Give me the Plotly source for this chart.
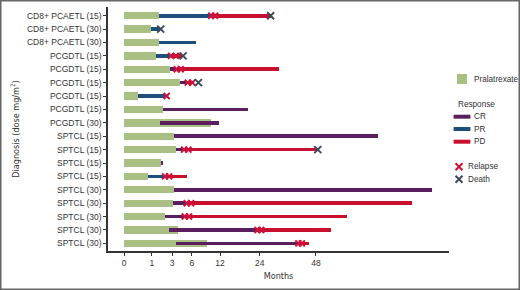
import numpy as np
import plotly.graph_objects as go

# ---------------- data ----------------
diagnosis = ["CD8+ PCAETL (15)", "CD8+ PCAETL (30)", "CD8+ PCAETL (30)",
             "PCGDTL (15)", "PCGDTL (15)", "PCGDTL (15)", "PCGDTL (15)", "PCGDTL (15)",
             "PCGDTL (30)",
             "SPTCL (15)", "SPTCL (15)", "SPTCL (15)", "SPTCL (15)",
             "SPTCL (30)", "SPTCL (30)", "SPTCL (30)", "SPTCL (30)", "SPTCL (30)"]

pralatrexate_months = [1.62, 0.95, 1.62, 1.33, 2.76, 4.09, 0.25, 1.95, 9.8,
                       3.26, 3.52, 1.81, 0.73, 3.22, 3.09, 2.22, 3.76, 8.91]

# response segments: row index, start month, end month, response
seg_row   = [0, 0, 1, 2, 3, 3, 4, 4, 5, 5, 6, 7, 8, 9, 10, 10, 11, 12, 12, 13, 14, 14, 15, 15, 16, 16, 17, 17]
seg_start = [1.6, 9.9, 0.95, 1.6, 1.33, 2.9, 2.76, 3.6, 4.09, 5.3, 0.25, 1.95, 1.69, 3.26, 3.52, 4.7, 1.81,
             0.73, 2.19, 3.22, 3.09, 5.1, 2.22, 4.8, 2.64, 23.2, 3.52, 39.6]
seg_end   = [9.6, 28.0, 1.7, 6.75, 2.8, 4.3, 3.5, 31.4, 5.2, 6.4, 2.2, 20.1, 11.8, 84.3, 4.6, 48.9, 1.9,
             2.12, 5.1, 123.9, 5.0, 107.9, 4.7, 65.0, 23.2, 55.8, 39.6, 44.6]
seg_resp  = ["PR", "PD", "PR", "PR", "PR", "PD", "CR", "PD", "CR", "PD", "PR", "CR", "CR", "CR", "CR", "PD", "CR",
             "PR", "PD", "CR", "CR", "PD", "CR", "PD", "CR", "PD", "CR", "PD"]

relapse_row   = [0, 0, 3, 3, 4, 4, 5, 5, 6, 10, 10, 12, 12, 14, 14, 15, 15, 16, 16, 17, 17]
relapse_month = [9.9, 10.8, 2.88, 3.48, 3.62, 4.19, 5.28, 6.08, 2.37, 4.69, 5.39, 2.19, 2.64,
                 5.12, 5.85, 4.8, 5.5, 23.2, 24.5, 39.6, 41.2]

death_row   = [0, 1, 3, 5, 10]
death_month = [28.0, 1.75, 4.54, 7.2, 48.9]

tick_months = [0, 1, 3, 6, 12, 24, 48]

resp_names  = ["CR", "PR", "PD"]
resp_colors = {"CR": "#5b1f5f", "PR": "#1d4f7c", "PD": "#c8102e"}
green = "#a9bf84"
relapse_color = "#d0103a"
death_color = "#3e4a5c"

# ---------------- figure ----------------
sq = np.sqrt
rows = np.arange(len(diagnosis))

fig = go.Figure()

fig.add_trace(go.Bar(
    y=rows, x=sq(np.array(pralatrexate_months)), base=0, orientation="h",
    width=0.55, marker=dict(color=green, line=dict(width=0)),
    showlegend=False, hoverinfo="skip"))

seg_row_a = np.array(seg_row)
s0 = sq(np.array(seg_start))
s1 = sq(np.array(seg_end))
resp_a = np.array(seg_resp)
for r in resp_names:
    m = resp_a == r
    fig.add_trace(go.Bar(
        y=seg_row_a[m], x=(s1 - s0)[m], base=s0[m], orientation="h",
        width=0.27, marker=dict(color=resp_colors[r], line=dict(width=0)),
        showlegend=False, hoverinfo="skip"))

fig.add_trace(go.Scatter(
    x=sq(np.array(relapse_month)), y=relapse_row, mode="markers",
    marker=dict(symbol="x-thin", size=6, line=dict(width=2, color=relapse_color)),
    showlegend=False, hoverinfo="skip"))
fig.add_trace(go.Scatter(
    x=sq(np.array(death_month)), y=death_row, mode="markers",
    marker=dict(symbol="x-thin", size=7, line=dict(width=2, color=death_color)),
    showlegend=False, hoverinfo="skip"))

# ---------------- custom legend (on a hidden helper axis in pixel-like units) ----------------
leg_sym_x = [462, 462, 462, 462, 459, 459]
leg_sym_y = [79, 116.7, 129, 141.7, 166.7, 179.3]
leg_text_x = [472, 472, 472, 472, 466, 466]
leg_labels = ["Pralatrexate", "CR", "PR", "PD", "Relapse", "Death"]

fig.add_trace(go.Scatter(
    x=[leg_sym_x[0]], y=[leg_sym_y[0]], xaxis="x2", yaxis="y2", mode="markers",
    marker=dict(symbol="square", size=10, color=green, line=dict(width=0)),
    showlegend=False, hoverinfo="skip"))
fig.add_trace(go.Scatter(
    x=leg_sym_x[1:4], y=leg_sym_y[1:4], xaxis="x2", yaxis="y2", mode="markers",
    marker=dict(symbol="line-ew", size=12,
                line=dict(width=4, color=[resp_colors[r] for r in resp_names])),
    showlegend=False, hoverinfo="skip"))
fig.add_trace(go.Scatter(
    x=leg_sym_x[4:], y=leg_sym_y[4:], xaxis="x2", yaxis="y2", mode="markers",
    marker=dict(symbol="x-thin", size=7, line=dict(width=2, color=[relapse_color, death_color])),
    showlegend=False, hoverinfo="skip"))

annotations = []
for tx, ty, lab in zip(leg_text_x, leg_sym_y, leg_labels):
    annotations.append(dict(x=tx, y=ty, xref="x2", yref="y2", text=lab, showarrow=False,
                            xanchor="left", yanchor="middle",
                            font=dict(family="Liberation Sans, Arial", size=8.2, color="#333")))
annotations.append(dict(x=456, y=104.7, xref="x2", yref="y2", text="Response", showarrow=False,
                        xanchor="left", yanchor="middle",
                        font=dict(family="Liberation Sans, Arial", size=8.2, color="#333")))

W, H = 520, 290
ml, mr, mt, mb = 108, 0, 7, 39
pw = W - ml - mr
ph = H - mt - mb

fig.update_layout(
    width=W, height=H,
    margin=dict(l=ml, r=mr, t=mt, b=mb, pad=0),
    plot_bgcolor="white", paper_bgcolor="white",
    barmode="overlay", bargap=0,
    annotations=annotations,
    xaxis=dict(domain=[0, 341 / pw], range=[-0.58, 11.73],
               tickmode="array", tickvals=sq(np.array(tick_months)),
               ticktext=[str(t) for t in tick_months],
               showgrid=False, zeroline=False, showline=True, linecolor="#333", linewidth=1.5,
               ticks="outside", ticklen=3, tickwidth=1, tickcolor="#333",
               tickfont=dict(family="Liberation Sans, Arial", size=8.5, color="#333"),
               title=dict(text="Months", standoff=6,
                          font=dict(family="Liberation Sans Narrow, DejaVu Sans Condensed, Arial", size=9, color="#333"))),
    yaxis=dict(range=[17.57, -0.65], tickmode="array", tickvals=rows, ticktext=diagnosis,
               showgrid=False, zeroline=False, showline=True, linecolor="#333", linewidth=1.5,
               ticks="outside", ticklen=3, tickwidth=1, tickcolor="#333",
               tickfont=dict(family="Liberation Sans, Arial", size=8.5, color="#333"),
               title=dict(text="Diagnosis (dose mg/m<sup>2</sup>)", standoff=6,
                          font=dict(family="Liberation Sans Narrow, DejaVu Sans Condensed, Arial", size=9, color="#333"))),
    xaxis2=dict(domain=[342 / pw, 1], range=[450, 520], visible=False, anchor="y2", fixedrange=True),
    yaxis2=dict(domain=[0, 1], range=[251, 7], visible=False, anchor="x2", fixedrange=True),
    shapes=[dict(type="rect", xref="paper", yref="paper",
                 x0=(0.75 - ml) / pw, x1=(W - 0.75 - ml) / pw,
                 y0=(ph + mt - (H - 0.75)) / ph, y1=(ph + mt - 0.75) / ph,
                 line=dict(color="#666", width=1.5), fillcolor="rgba(0,0,0,0)", layer="above")],
)

fig.write_html("out.html", config={"displayModeBar": False},
               post_script="document.body.style.margin='0';document.body.style.overflow='hidden';")
